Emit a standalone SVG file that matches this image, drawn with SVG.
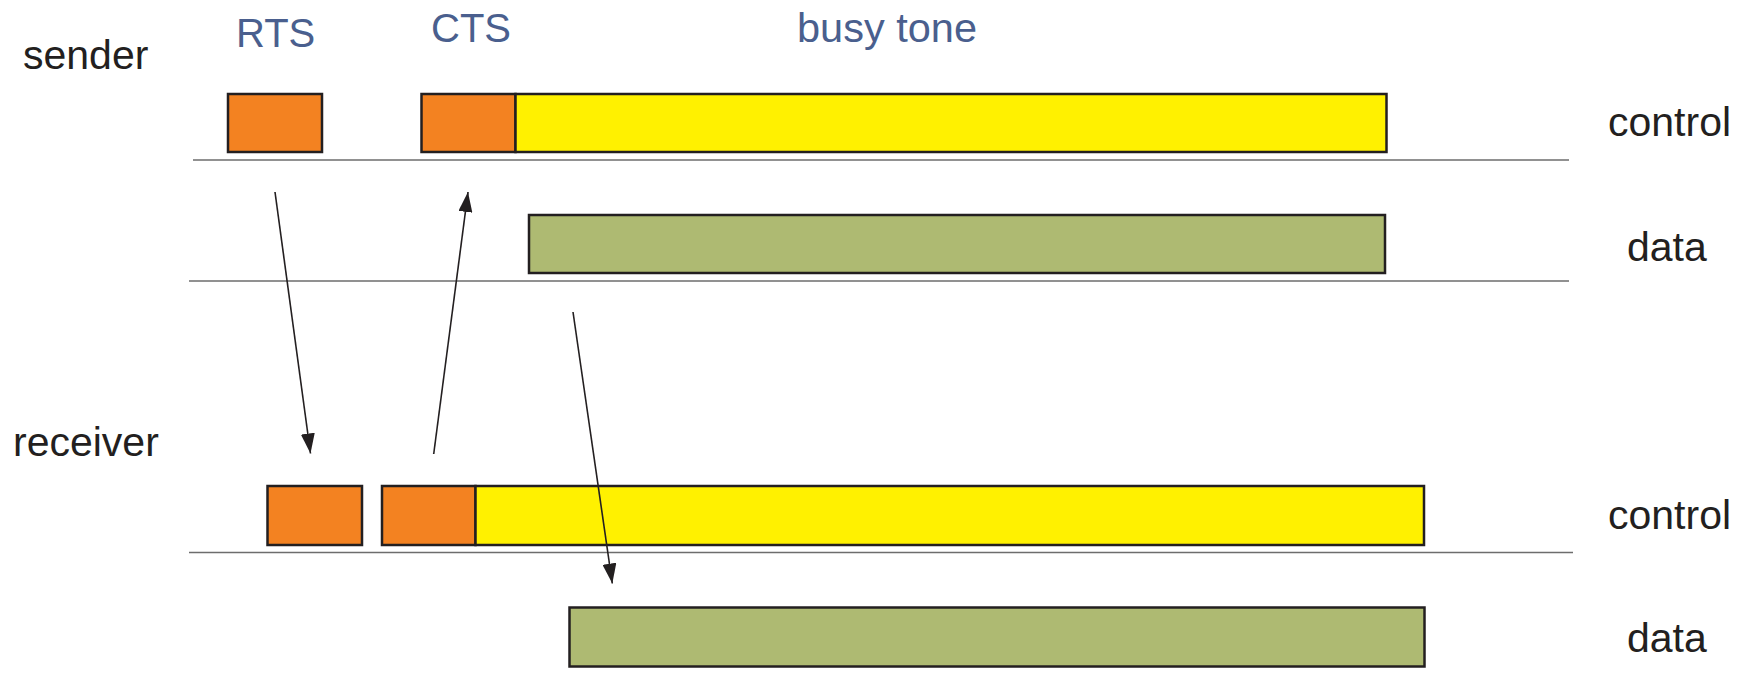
<svg xmlns="http://www.w3.org/2000/svg" width="1754" height="673" viewBox="0 0 1754 673">
<style>
.lbl{font-family:"Liberation Sans",Arial,sans-serif;font-size:41px;fill:#231f20}
.hdr{font-family:"Liberation Sans",Arial,sans-serif;font-size:40px;fill:#4a5f8e}
.box{stroke:#231f20;stroke-width:2.5}
.org{fill:#f38221}
.yel{fill:#fff100}
.grn{fill:#aeba72}
.sep{stroke:#6d6d6d;stroke-width:1.5}
.arr{stroke:#231f20;stroke-width:1.6;fill:none;marker-end:url(#ah)}
</style>
<defs>
<marker id="ah" viewBox="0 0 20 14" markerWidth="20" markerHeight="14" refX="20" refY="7" orient="auto" markerUnits="userSpaceOnUse">
<path d="M0,0 L20,7 L0,14 z" fill="#231f20"/>
</marker>
</defs>
<rect width="1754" height="673" fill="#ffffff"/>
<g id="labels">
<text class="lbl" x="23" y="69">sender</text>
<text class="lbl" x="13" y="456">receiver</text>
<text class="hdr" x="236" y="47">RTS</text>
<text class="hdr" x="431" y="42">CTS</text>
<text class="hdr" x="797" y="42" style="font-size:41.5px">busy tone</text>
<text class="lbl" x="1608" y="136">control</text>
<text class="lbl" x="1627" y="261">data</text>
<text class="lbl" x="1608" y="529">control</text>
<text class="lbl" x="1627" y="652">data</text>
</g>
<g id="separators">
<line class="sep" x1="193" y1="160" x2="1569" y2="160"/>
<line class="sep" x1="189" y1="281" x2="1569" y2="281"/>
<line class="sep" x1="189" y1="552.5" x2="1573" y2="552.5"/>
</g>
<g id="sender-rts"><rect class="box org" x="228" y="94" width="94" height="58"/></g>
<g id="sender-cts"><rect class="box org" x="421.5" y="94" width="94" height="58"/></g>
<g id="sender-busy"><rect class="box yel" x="515.5" y="94" width="871" height="58"/></g>
<g id="sender-data"><rect class="box grn" x="529" y="215" width="856" height="58"/></g>
<g id="receiver-rts"><rect class="box org" x="267.5" y="486" width="94.5" height="59"/></g>
<g id="receiver-cts"><rect class="box org" x="382" y="486" width="93.5" height="59"/></g>
<g id="receiver-busy"><rect class="box yel" x="475.5" y="486" width="948.5" height="59"/></g>
<g id="receiver-data"><rect class="box grn" x="569.5" y="607.5" width="855" height="59"/></g>
<g id="connectors">
<line class="arr" x1="275" y1="192" x2="310.5" y2="453.5"/>
<line class="arr" x1="433.7" y1="454" x2="468" y2="192"/>
<line class="arr" x1="573" y1="312" x2="612.3" y2="583.5"/>
</g>
</svg>
